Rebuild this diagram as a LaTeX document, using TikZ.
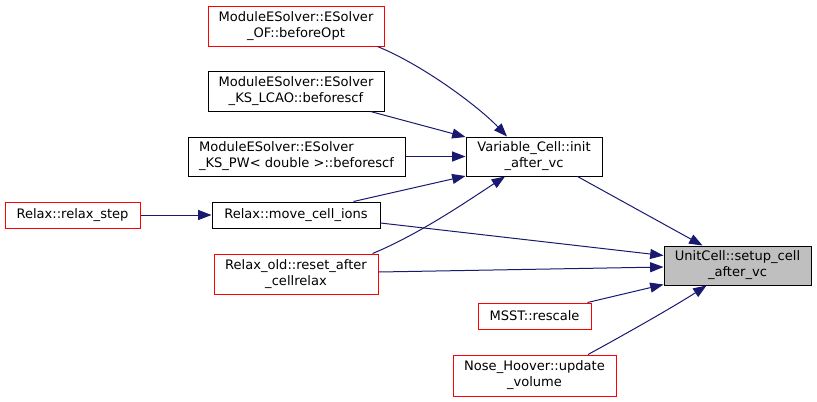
\documentclass[tikz,border=0pt]{standalone}
\usepackage{fontspec}
\setmainfont{DejaVu Sans}
\usetikzlibrary{arrows.meta,calc}
\definecolor{edgeblue}{HTML}{191970}
\definecolor{redline}{HTML}{FF0000}
\definecolor{grayfill}{HTML}{BFBFBF}
\begin{document}
\begin{tikzpicture}[x=0.75pt,y=-0.75pt,
  box/.style={draw=black,line width=0.75pt,inner sep=0pt,align=center,
    font=\fontsize{9.8}{12}\selectfont},
  redbox/.style={box,draw=redline},
  graybox/.style={box,fill=grayfill},
  edge/.style={draw=edgeblue,line width=0.75pt,-{Triangle[length=10pt,width=7.5pt]}}]
\useasboundingbox (0,0) rectangle (817,401);
\node[redbox,minimum width=132pt,minimum height=30pt] (OF) at (296,26) {ModuleESolver::ESolver\\\_OF::beforeOpt};
\node[box,minimum width=132pt,minimum height=30pt] (LCAO) at (296,91) {ModuleESolver::ESolver\\\_KS\_LCAO::beforescf};
\node[box,minimum width=162.75pt,minimum height=29.25pt,align=left] (PW) at (296.5,156.5) {ModuleESolver::ESolver\\\_KS\_PW< double >::beforescf};
\node[redbox,minimum width=101.25pt,minimum height=19.5pt] (RS) at (72.5,215) {Relax::relax\_step};
\node[box,minimum width=126pt,minimum height=19.5pt] (MCI) at (296,215) {Relax::move\_cell\_ions};
\node[redbox,minimum width=123pt,minimum height=30pt] (RA) at (296,274) {Relax\_old::reset\_after\\\_cellrelax};
\node[box,minimum width=102pt,minimum height=29.25pt] (VC) at (534,156.5) {Variable\_Cell::init\\\_after\_vc};
\node[graybox,minimum width=110.25pt,minimum height=29.25pt] (UC) at (737.5,265.5) {UnitCell::setup\_cell\\\_after\_vc};
\node[redbox,minimum width=84.75pt,minimum height=19.5pt] (MSST) at (534.5,316) {MSST::rescale};
\node[redbox,minimum width=122.25pt,minimum height=30.75pt] (NH) at (534.5,375.5) {Nose\_Hoover::update\\\_volume};

\draw[edge] ($(OF.south east)+(-7,0)$) .. controls (425,66) and (480,108) .. ($(VC.north)+(-27,0)$);
\draw[edge] ($(LCAO.south east)+(-14,0)$) -- ($(VC.north west)+(0,0.5)$);
\draw[edge] (PW.east) -- (VC.west);
\draw[edge] ($(MCI.north east)+(-27,0)$) -- ($(VC.south west)+(0,-0.5)$);
\draw[edge] ($(RA.north east)+(-6,0)$) .. controls (420,234) and (472,198) .. ($(VC.south)+(-29,0)$);
\draw[edge] ($(VC.south east)+(-25,0)$) -- ($(UC.north)+(-35,0)$);
\draw[edge] ($(MCI.east)+(0,8)$) -- ($(UC.west)+(0,-10)$);
\draw[edge] ($(RA.east)+(0,-2)$) -- ($(UC.west)+(0,1.5)$);
\draw[edge] ($(MSST.north east)+(-4,0)$) -- ($(UC.south west)+(0,-1)$);
\draw[edge] ($(NH.north)+(53.5,0)$) .. controls (622,336) and (675,306) .. ($(UC.south)+(-31,0)$);
\draw[edge] (RS.east) -- (MCI.west);
\end{tikzpicture}
\end{document}
